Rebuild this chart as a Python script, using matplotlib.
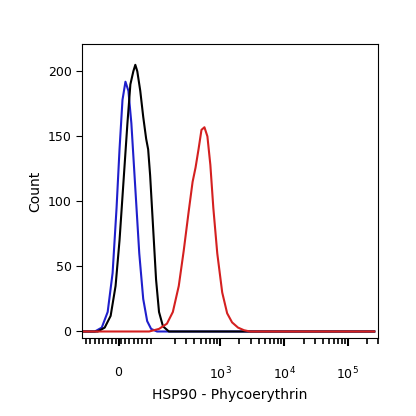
import numpy as np
import matplotlib
matplotlib.use("Agg")
import matplotlib.pyplot as plt

# x in display channel units (biexponential-like scale), counts on y
blue_x = [82, 95, 102, 108, 113, 117, 120, 123, 126, 129, 132, 136, 140, 144, 148, 152, 158, 378]
blue_y = [0, 0, 3, 15, 45, 95, 140, 178, 192, 185, 160, 110, 60, 25, 8, 2, 0, 0]
black_x = [82, 98, 105, 111, 116, 120, 124, 128, 131, 134, 136, 138, 141, 144, 147, 149, 151, 154, 157, 160, 164, 170, 378]
black_y = [0, 0, 3, 12, 35, 70, 115, 160, 190, 200, 205, 200, 185, 165, 148, 140, 120, 80, 40, 15, 4, 0, 0]
red_x = [82, 150, 160, 168, 174, 180, 185, 190, 194, 197, 200, 203, 206, 209, 212, 215, 219, 224, 229, 234, 240, 246, 252, 378]
red_y = [0, 0, 2, 6, 15, 35, 62, 92, 115, 126, 140, 155, 157, 150, 128, 95, 60, 30, 14, 7, 3, 1, 0, 0]
major_pos = [119, 222, 287, 351]
major_lab = ["0", "$10^3$", "$10^4$", "$10^5$"]

fig = plt.figure(figsize=(4.16, 4.16), dpi=100)
ax = fig.add_axes([82/416, (416-338)/416, (378-82)/416, (338-44)/416])
ax.plot(blue_x, blue_y, color="#1f1fcc", lw=1.5)
ax.plot(black_x, black_y, color="black", lw=1.5)
ax.plot(red_x, red_y, color="#d42020", lw=1.5)
ax.set_xlim(82, 378)
ax.set_ylim(-5, 221)
ax.set_yticks([0, 50, 100, 150, 200])
ax.set_xticks(major_pos)
ax.set_xticklabels(major_lab)
dec = 64.5
minors = []
for base in [157, 222, 287]:
    for k in range(2, 10):
        minors.append(base + dec*np.log10(k))
minors += [351 + dec*np.log10(k) for k in range(2, 4)]
minors += list(np.linspace(86, 152, 16))
ax.set_xticks(minors, minor=True)
ax.tick_params(axis="x", which="major", length=6, width=1.5, pad=14, labelsize=9)
ax.tick_params(axis="x", which="minor", length=4, width=1.2)
ax.tick_params(axis="y", labelsize=9, length=4)
ax.set_ylabel("Count", fontsize=10)
ax.set_xlabel("HSP90 - Phycoerythrin", fontsize=10)
fig.savefig("out.png", dpi=100)
